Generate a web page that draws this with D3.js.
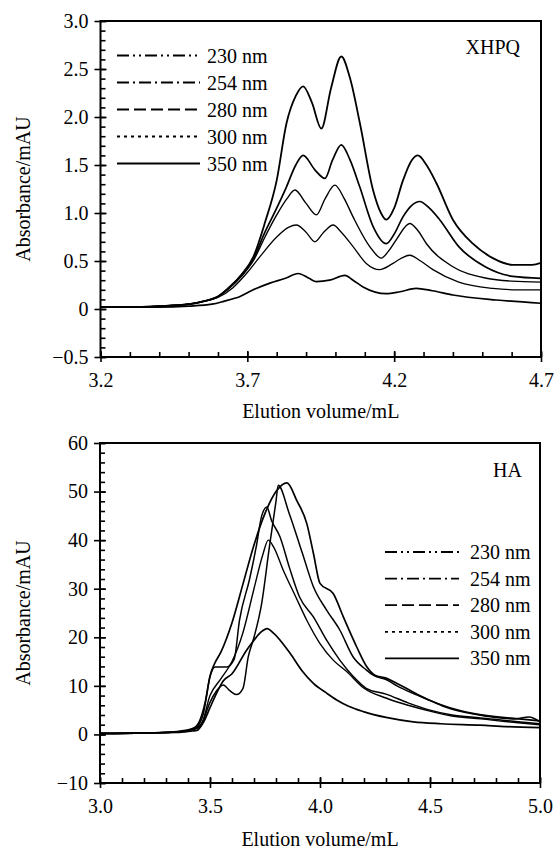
<!DOCTYPE html>
<html><head><meta charset="utf-8">
<script src="https://cdn.jsdelivr.net/npm/d3@7/dist/d3.min.js"></script>
<style>
body{margin:0;background:#fff;}
svg, svg text{font-family:'Liberation Serif','Times New Roman',Times,serif !important;fill:#000;}
</style>
</head><body>
<svg id="chart" width="554" height="849" font-family="Liberation Serif"></svg>
<script>
// ---------- DATA ----------
const wavelengths = ["230 nm","254 nm","280 nm","300 nm","350 nm"];

// XHPQ panel: [elution volume mL, absorbance mAU]
const xhpq230 = [[3.2,0.02],[3.3,0.02],[3.4,0.03],[3.5,0.05],[3.55,0.08],[3.6,0.13],[3.64,0.23],[3.68,0.36],[3.72,0.54],[3.76,0.9],[3.8,1.34],[3.833,1.93],[3.865,2.22],[3.89,2.32],[3.92,2.15],[3.952,1.88],[3.985,2.3],[4.02,2.63],[4.05,2.4],[4.083,1.94],[4.128,1.24],[4.155,1.0],[4.173,0.93],[4.2,1.05],[4.23,1.34],[4.26,1.55],[4.281,1.6],[4.31,1.5],[4.344,1.31],[4.4,0.93],[4.468,0.68],[4.536,0.53],[4.604,0.46],[4.67,0.46],[4.7,0.48]];
const xhpq254 = [[3.2,0.02],[3.3,0.02],[3.4,0.03],[3.5,0.05],[3.55,0.08],[3.6,0.13],[3.64,0.23],[3.68,0.35],[3.72,0.52],[3.76,0.8],[3.8,1.05],[3.833,1.27],[3.865,1.5],[3.89,1.6],[3.93,1.45],[3.964,1.36],[3.99,1.55],[4.02,1.71],[4.05,1.55],[4.083,1.27],[4.128,0.86],[4.173,0.68],[4.2,0.78],[4.23,0.96],[4.26,1.08],[4.287,1.12],[4.32,1.05],[4.355,0.93],[4.42,0.65],[4.51,0.44],[4.604,0.34],[4.7,0.32]];
const xhpq280 = [[3.2,0.02],[3.3,0.02],[3.4,0.03],[3.5,0.05],[3.55,0.08],[3.6,0.13],[3.64,0.22],[3.68,0.34],[3.72,0.5],[3.76,0.75],[3.8,0.98],[3.835,1.15],[3.862,1.24],[3.9,1.1],[3.935,0.98],[3.965,1.15],[3.998,1.29],[4.03,1.15],[4.06,0.96],[4.117,0.65],[4.156,0.53],[4.18,0.6],[4.207,0.72],[4.253,0.89],[4.28,0.82],[4.31,0.68],[4.4,0.44],[4.514,0.32],[4.6,0.29],[4.7,0.28]];
const xhpq300 = [[3.2,0.02],[3.3,0.02],[3.4,0.03],[3.5,0.05],[3.55,0.08],[3.6,0.12],[3.65,0.22],[3.7,0.38],[3.743,0.545],[3.8,0.75],[3.84,0.85],[3.867,0.875],[3.9,0.8],[3.93,0.7],[3.96,0.8],[3.992,0.875],[4.02,0.8],[4.06,0.65],[4.105,0.475],[4.15,0.41],[4.196,0.475],[4.225,0.53],[4.253,0.56],[4.29,0.5],[4.332,0.41],[4.42,0.28],[4.536,0.215],[4.62,0.2],[4.7,0.2]];
const xhpq350 = [[3.2,0.02],[3.3,0.02],[3.4,0.02],[3.5,0.03],[3.58,0.05],[3.62,0.08],[3.675,0.13],[3.72,0.2],[3.777,0.27],[3.83,0.32],[3.873,0.37],[3.91,0.32],[3.935,0.285],[3.98,0.3],[4.032,0.35],[4.06,0.3],[4.094,0.23],[4.173,0.16],[4.22,0.18],[4.275,0.215],[4.33,0.19],[4.4,0.146],[4.548,0.094],[4.7,0.06]];

// HA panel
const ha230 = [[3.0,0.2],[3.2,0.3],[3.35,0.5],[3.42,1.0],[3.44,1.2],[3.47,3.0],[3.498,6.4],[3.53,9.0],[3.56,10.2],[3.59,9.0],[3.62,8.2],[3.65,9.5],[3.674,16],[3.7,20],[3.735,27],[3.77,38.6],[3.8,48],[3.81,51.3],[3.86,45.5],[3.92,37.3],[3.97,30.4],[4.03,25.6],[4.09,21.5],[4.15,16],[4.21,13.3],[4.25,12],[4.3,11.3],[4.35,10],[4.42,8.5],[4.5,7],[4.58,5.5],[4.7,4.2],[4.88,3.2],[4.95,3.6],[5.0,2.6]];
const ha254 = [[3.0,0.2],[3.2,0.3],[3.35,0.6],[3.42,1.2],[3.45,2.5],[3.48,7],[3.5,12],[3.52,14.5],[3.55,17],[3.6,23],[3.65,31],[3.7,39],[3.75,45.5],[3.8,50],[3.85,51.8],[3.894,48.2],[3.94,43.4],[3.97,37.3],[4.0,31.1],[4.06,29],[4.106,24.2],[4.167,18],[4.212,14],[4.25,12.2],[4.3,11.6],[4.35,10.5],[4.42,8.8],[4.5,7],[4.576,5.7],[4.7,4.3],[4.88,3.3],[5.0,2.8]];
const ha280 = [[3.0,0.2],[3.2,0.3],[3.35,0.5],[3.42,1.1],[3.44,1.5],[3.47,4.3],[3.5,11.9],[3.523,13.9],[3.576,13.9],[3.61,15.5],[3.634,23.5],[3.68,32],[3.71,38.6],[3.735,45],[3.758,46.8],[3.78,44],[3.818,40.7],[3.86,34.5],[3.907,28.3],[3.97,24.2],[4.03,19.4],[4.09,15.3],[4.15,12],[4.21,9.5],[4.3,8.3],[4.4,6.5],[4.5,5],[4.6,4],[4.73,3.4],[4.9,2.6],[5.0,2.2]];
const ha300 = [[3.0,0.2],[3.2,0.3],[3.35,0.5],[3.42,1.0],[3.46,2],[3.5,8],[3.55,11.5],[3.6,15],[3.65,21],[3.7,30],[3.74,37],[3.765,40],[3.79,38.5],[3.833,33.8],[3.89,28.3],[3.94,23.5],[4.0,18.7],[4.06,15.3],[4.12,13],[4.2,9.5],[4.3,7.5],[4.4,6],[4.5,4.8],[4.6,3.8],[4.73,3.2],[4.9,2.4],[5.0,2.0]];
const ha350 = [[3.0,0.2],[3.2,0.3],[3.35,0.4],[3.42,0.7],[3.44,0.8],[3.47,2.5],[3.5,5.5],[3.53,8.5],[3.56,11],[3.6,12.5],[3.667,17.4],[3.7,19.4],[3.73,21],[3.76,21.8],[3.79,20.8],[3.864,16.7],[3.92,13],[3.97,10.5],[4.03,8.5],[4.076,7.1],[4.13,5.8],[4.197,4.7],[4.3,3.5],[4.424,2.6],[4.55,2.2],[4.727,1.9],[4.85,1.6],[5.0,1.4]];

const xhpqXTicks = [3.2,3.7,4.2,4.7];
const xhpqYTicks = [-0.5,0,0.5,1.0,1.5,2.0,2.5,3.0];
const haXTicks = [3.0,3.5,4.0,4.5,5.0];
const haYTicks = [-10,0,10,20,30,40,50,60];

// ---------- DRAW ----------
const SERIF = "'Liberation Serif','Times New Roman',Times,serif";
const svg = d3.select("#chart");
svg.append("rect").attr("width",554).attr("height",849).attr("fill","#fff");

const dashes = ["12,4,2,4,2,4","12,4,2,4","12,5","3,4",null];
const FS = 20;

function minus(s){ return String(s).replace("-","\u2212"); }

function panel(o){
  const g = svg.append("g");
  const x = d3.scaleLinear().domain(o.xd).range([o.x0,o.x1]);
  const y = d3.scaleLinear().domain(o.yd).range([o.y1,o.y0]);

  const line = d3.line().x(d=>x(d[0])).y(d=>y(d[1])).curve(d3.curveMonotoneX);
  o.series.forEach((s,i)=>{
    g.append("path").attr("d",line(s)).attr("fill","none")
      .attr("stroke","#000").attr("stroke-width",o.widths[i]).attr("stroke-linejoin","round");
  });

  g.append("rect").attr("x",o.x0).attr("y",o.y0).attr("width",o.x1-o.x0).attr("height",o.y1-o.y0)
    .attr("fill","none").attr("stroke","#000").attr("stroke-width",2);

  g.append("g").attr("transform",`translate(0,${o.y1})`)
    .call(d3.axisBottom(x).tickValues(o.xt).tickSize(5).tickPadding(11).tickFormat(o.xf));
  g.append("g").attr("transform",`translate(0,${o.y1})`)
    .call(d3.axisTop(x).tickValues(d3.range(o.xd[0], o.xd[1]+1e-9, 0.1)).tickSize(5).tickFormat(""));
  g.append("g").attr("transform",`translate(${o.x0},0)`)
    .call(d3.axisLeft(y).tickValues(o.yt).tickSize(6).tickPadding(6).tickFormat(o.yf));
  g.append("g").attr("transform",`translate(${o.x0},0)`)
    .call(d3.axisRight(y).tickValues(d3.range(o.yd[0], o.yd[1]+1e-9, o.ystep)).tickSize(5).tickFormat(""));
  g.append("g").attr("transform",`translate(0,${o.y1})`)
    .call(d3.axisTop(x).tickValues(o.xt).tickSize(6).tickFormat(""));
  g.append("g").attr("transform",`translate(${o.x0},0)`)
    .call(d3.axisRight(y).tickValues(o.yt).tickSize(6).tickFormat(""));

  g.selectAll("g").attr("font-family",SERIF);
  g.selectAll(".domain").remove();
  g.selectAll(".tick line").attr("stroke","#000").attr("stroke-width",1.6);
  g.selectAll(".tick text").attr("font-size",FS).attr("font-family",SERIF);

  g.append("text").attr("x",(o.x0+o.x1)/2).attr("y",o.xTitleY).attr("text-anchor","middle")
    .attr("font-size",FS).attr("font-family",SERIF).text("Elution volume/mL");
  g.append("text").attr("transform",`translate(30,${o.yTitleC}) rotate(-90)`).attr("text-anchor","middle")
    .attr("font-size",FS).attr("font-family",SERIF).text("Absorbance/mAU");

  g.append("text").attr("x",o.labelX).attr("y",o.labelY).attr("text-anchor","end")
    .attr("dy","0.35em").attr("font-size",FS).attr("font-family",SERIF).text(o.label);

  wavelengths.forEach((w,i)=>{
    const ly = o.legY + i*o.legStep;
    const l = g.append("line").attr("x1",o.legX1).attr("x2",o.legX2).attr("y1",ly).attr("y2",ly)
      .attr("stroke","#000").attr("stroke-width",1.8);
    if(dashes[i]) l.attr("stroke-dasharray",dashes[i]);
    g.append("text").attr("x",o.legTX).attr("y",ly).attr("dy","0.35em")
      .attr("font-size",FS).attr("font-family",SERIF).text(w);
  });
}

panel({
  xd:[3.2,4.7], yd:[-0.5,3.0], x0:100.5, x1:541, y0:21, y1:357,
  xt:xhpqXTicks, yt:xhpqYTicks, ystep:0.1,
  xf:d=>d.toFixed(1), yf:d=>d===0?"0":minus(d.toFixed(1)),
  series:[xhpq230,xhpq254,xhpq280,xhpq300,xhpq350], widths:[1.8,1.7,1.4,1.3,1.7],
  xTitleY:418, yTitleC:189, label:"XHPQ", labelX:520, labelY:47,
  legY:55.5, legStep:27, legX1:117, legX2:200, legTX:207
});

panel({
  xd:[3.0,5.0], yd:[-10,60], x0:100, x1:540, y0:443, y1:783,
  xt:haXTicks, yt:haYTicks, ystep:2,
  xf:d=>d.toFixed(1), yf:d=>minus(d),
  series:[ha230,ha254,ha280,ha300,ha350], widths:[1.5,1.7,1.5,1.4,1.7],
  xTitleY:846, yTitleC:613, label:"HA", labelX:522, labelY:470,
  legY:552, legStep:26.6, legX1:385, legX2:459, legTX:470
});
</script>
</body></html>
